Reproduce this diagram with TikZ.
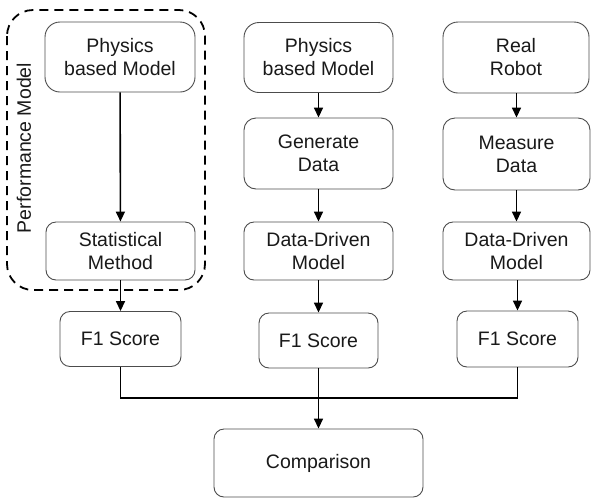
\documentclass[tikz,border=0pt]{standalone}
\usepackage{fontspec}
\setmainfont{Liberation Sans}
\usetikzlibrary{arrows.meta}
\begin{document}
\begin{tikzpicture}[x=1pt,y=-1pt,
  box/.style={draw=black!70, line width=0.9pt, align=center, inner sep=0pt,
    text=black!90, font=\fontsize{19.5}{23}\selectfont},
  bigbox/.style={box, rounded corners=15pt},
  midbox/.style={box, rounded corners=10pt},
  arr/.style={line width=1.6pt, -{Triangle[length=10pt,width=9pt]}},
  ln/.style={line width=1.6pt}]
\useasboundingbox (0,0) rectangle (591,499);
% performance model frame
\draw[line width=1.8pt, dash pattern=on 9pt off 6pt, rounded corners=26pt] (7,10) rectangle (205,290);
\node[rotate=90, text=black!90, font=\fontsize{19.5}{23}\selectfont] (pm) at (24,148) {Performance Model};
% column 1
\node[bigbox, minimum width=150pt, minimum height=70pt] (p1) at (120,57) {Physics\\based Model};
\node[midbox, minimum width=149pt, minimum height=58pt] (sm) at (120.5,251) {Statistical\\Method};
\node[midbox, minimum width=121pt, minimum height=55pt] (f1a) at (120.5,339) {F1 Score};
% column 2
\node[bigbox, minimum width=149pt, minimum height=70pt] (p2) at (318.5,57.5) {Physics\\based Model};
\node[bigbox, rounded corners=12pt, minimum width=149pt, minimum height=71pt] (gd) at (318.5,153.5) {Generate\\Data};
\node[midbox, minimum width=149pt, minimum height=58pt] (dd2) at (318.5,251) {Data-Driven\\Model};
\node[midbox, minimum width=119pt, minimum height=55pt] (f1b) at (318.5,340.5) {F1 Score};
% column 3
\node[bigbox, minimum width=146pt, minimum height=71pt] (rr) at (516,57.5) {Real\\Robot};
\node[bigbox, rounded corners=12pt, minimum width=147pt, minimum height=72pt] (md) at (516.5,154) {Measure\\Data};
\node[midbox, minimum width=147pt, minimum height=58pt] (dd3) at (516.5,251) {Data-Driven\\Model};
\node[midbox, minimum width=121pt, minimum height=56pt] (f1c) at (517.5,339) {F1 Score};
% comparison
\node[midbox, minimum width=209pt, minimum height=68pt] (cmp) at (318.5,463) {Comparison};
% connectors
\draw[arr] (p1) -- (sm);
\draw[arr] (sm) -- (f1a);
\draw[arr] (p2) -- (gd);
\draw[arr] (gd) -- (dd2);
\draw[arr] (dd2) -- (f1b);
\draw[arr] (rr.south -| md.north) -- (md);
\draw[arr] (md) -- (dd3);
\draw[arr] (dd3.south -| f1c.north) -- (f1c);
\coordinate (j) at (318.5,398);
\draw[ln] (f1a.south) |- (j);
\draw[ln] (f1c.south) |- (j);
\draw[arr] (f1b) -- (cmp);
\end{tikzpicture}
\end{document}
